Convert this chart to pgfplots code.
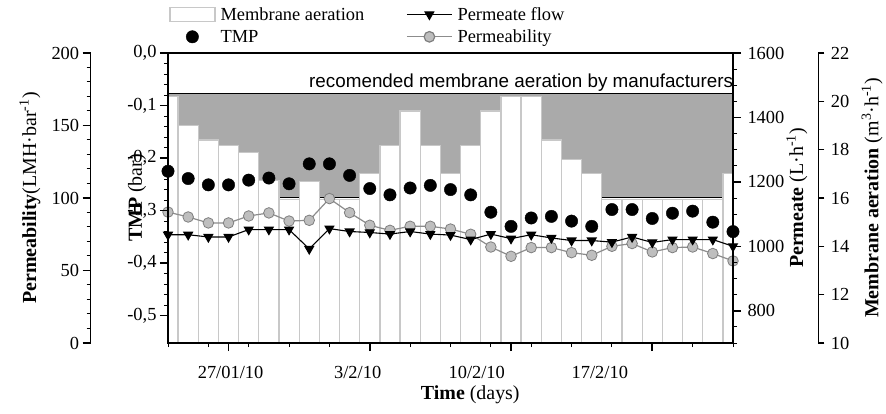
\documentclass[border=0pt]{standalone}
\usepackage{pgfplots}
\usepackage{pgfplotstable}
\pgfplotsset{compat=1.18}
\usepackage{fontspec}
\setmainfont{Liberation Serif}
\newfontfamily\arialfont{Liberation Sans}
\definecolor{shade}{HTML}{AAAAAA}
\definecolor{baredge}{HTML}{C8C8C8}
\definecolor{pfill}{HTML}{BEBEBE}
\definecolor{pedge}{HTML}{7F7F7F}
\definecolor{pline}{HTML}{8C8C8C}

\pgfplotstableread{
i aer tmp perm flow
0 20.2 -0.225 90.3 1036
1 19.0 -0.239 86.9 1036
2 18.4 -0.251 82.8 1029
3 18.18 -0.251 82.8 1029
4 17.89 -0.242 87.6 1052
5 16.72 -0.238 89.7 1052
6 15.93 -0.249 84.1 1052
7 16.69 -0.211 84.6 992
8 15.93 -0.211 99.6 1055
9 15.93 -0.233 89.9 1046
10 17.0 -0.258 81.2 1043
11 18.18 -0.270 77.7 1038
12 19.6 -0.257 80.5 1046
13 18.18 -0.252 80.5 1038
14 17.0 -0.260 78.6 1035
15 18.18 -0.270 75.0 1021
16 19.6 -0.303 66.2 1038
17 20.2 -0.330 59.8 1024
18 20.2 -0.314 65.8 1036
19 18.4 -0.311 65.8 1026
20 17.59 -0.320 62.3 1018
21 17.0 -0.330 60.5 1018
22 15.93 -0.298 66.7 1013
23 15.93 -0.298 68.6 1029
24 15.93 -0.315 62.8 1012
25 15.93 -0.305 65.8 1021
26 15.93 -0.301 66.2 1021
27 15.93 -0.322 61.7 1021
28 17.0 -0.340 56.6 1000
}\data

\newcommand{\lblfont}{\fontsize{20}{24}\selectfont}
\pgfplotsset{
  base/.style={scale only axis, width=565bp, height=290bp, xmin=0, xmax=28,
    tick label style={font=\fontsize{18.5}{20}\selectfont},
    axis line style={line width=1.1bp},
    major tick style={line width=1.6bp, black},
    minor tick style={line width=1bp, black},
    tick align=outside, major tick length=8bp, minor tick length=4bp,
  },
  spine/.style={scale only axis, width=1bp, height=290bp, xmin=0, xmax=1,
    hide x axis,
    tick label style={font=\fontsize{18.5}{20}\selectfont},
    axis line style={line width=1.1bp},
    major tick style={line width=1.6bp, black},
    minor tick style={line width=1bp, black},
    tick align=outside, major tick length=8bp, minor tick length=4bp,
  },
}
\begin{document}
\begin{tikzpicture}
\useasboundingbox (-168bp,-71bp) rectangle (718bp,343bp);
% --- aeration bars and recommended band
\begin{axis}[base, hide axis, ymin=10, ymax=22]
\addplot[fill=shade, draw=none] coordinates {(0,20.32) (28,20.32)} \closedcycle;
\addplot[fill=white, draw=none] coordinates {(0,16) (28,16)} \closedcycle;
\addplot[black, line width=1bp] coordinates {(0,16) (28,16)};
\addplot[ybar, bar width=1, fill=white, draw=baredge, line width=1.3bp] table[x=i, y=aer] {\data};
\addplot[black, line width=1bp] coordinates {(0,20.32) (28,20.32)};
\node[anchor=base west, font=\arialfont\fontsize{18.9}{20}\selectfont, inner sep=0pt] at (rel axis cs:0.2496,0.881) {recomended membrane aeration by manufacturers};
\end{axis}
% --- permeability line
\begin{axis}[base, hide axis, ymin=0, ymax=200]
\addplot[pline, line width=1.2bp, mark=*, mark size=5.3bp, mark options={fill=pfill, draw=pedge, line width=0.8bp}] table[x=i, y=perm] {\data};
\end{axis}
% --- permeate axis (right)
\begin{axis}[base, axis x line=none, axis y line*=right, ymin=700, ymax=1600,
  ytick={800,1000,1200,1400,1600}, yticklabels={800,1000,1200,1400,1600},
  minor ytick={700,750,...,1600},
  yticklabel style={xshift=3bp},
  ylabel={\textbf{Permeate} (L·h\textsuperscript{-1})},
  every axis y label/.style={at={(rel axis cs:1,0.5)}, xshift=64bp, rotate=90, anchor=center, font=\lblfont}]
\addplot[black, line width=1.1bp, mark=triangle*, mark size=5bp, mark options={rotate=180}] table[x=i, y=flow] {\data};
\end{axis}
% --- TMP main axis
\begin{axis}[base, ymin=-0.552, ymax=0,
  ytick={-0.5,-0.4,-0.3,-0.2,-0.1,0},
  yticklabels={{-0,5},{-0,4},{-0,3},{-0,2},{-0,1},{0,0}},
  minor y tick num=4,
  ytick pos=left, xtick pos=bottom,
  xtick={3,10,17,24}, xticklabels={,,,},
  minor xtick={0,2,...,28},
  extra x ticks={3.1,9.4,15.3,21.4},
  extra x tick labels={27/01/10,3/2/10,10/2/10,17/2/10},
  extra x tick style={major tick length=0pt, xticklabel style={yshift=-20bp}},
  xlabel={\textbf{Time} (days)},
  every axis x label/.style={at={(rel axis cs:0.535,0)}, yshift=-52bp, anchor=center, font=\lblfont},
  ylabel={\textbf{TMP} (bar)},
  every axis y label/.style={at={(rel axis cs:0,0.5)}, xshift=-31bp, rotate=90, anchor=center, font=\lblfont},
  legend columns=2,
  legend cell align=left,
  legend style={at={(axis description cs:-0.0035,1.1724)}, anchor=north west, draw=none, fill=none,
    font=\fontsize{18.5}{20}\selectfont, row sep=4bp,
    /tikz/every even column/.append style={column sep=40bp}, nodes={inner sep=2bp}},
  legend image code/.code={\draw[mark repeat=2,mark phase=2,#1] plot coordinates {(0bp,0bp)(22.5bp,0bp)(45bp,0bp)};},
]
\addplot[only marks, mark=*, mark size=6.2bp, black, forget plot] table[x=i, y=tmp] {\data};
\addlegendimage{legend image code/.code={\draw[fill=white,draw=baredge,line width=1.3bp] (0bp,-7bp) rectangle (45bp,7bp);}}
\addlegendentry{\hspace{3bp}Membrane aeration}
\addlegendimage{black, line width=1.1bp, mark=triangle*, mark size=5bp, mark options={rotate=180}}
\addlegendentry{\hspace{3bp}Permeate flow}
\addlegendimage{only marks, mark=*, mark size=6.2bp, black}
\addlegendentry{\hspace{3bp}TMP}
\addlegendimage{pline, line width=1.2bp, mark=*, mark size=5.3bp, mark options={fill=pfill, draw=pedge}}
\addlegendentry{\hspace{3bp}Permeability}
\end{axis}
% --- permeability spine
\begin{axis}[spine, at={(-77.3bp,0)}, anchor=south west, axis y line*=left, ymin=0, ymax=200,
  ytick={0,50,100,150,200}, yticklabels={0,50,100,150,200}, minor y tick num=4,
  ylabel={\textbf{Permeability}(LMH·bar\textsuperscript{-1})},
  every axis y label/.style={at={(rel axis cs:0,0.5)}, xshift=-60.7bp, rotate=90, anchor=center, font=\lblfont}]
\end{axis}
% --- aeration spine
\begin{axis}[spine, at={(650.3bp,0)}, anchor=south east, axis y line*=right, ymin=10, ymax=22,
  ytick={10,12,14,16,18,20,22}, yticklabels={10,12,14,16,18,20,22}, major tick length=6bp,
  yticklabel style={xshift=3bp},
  ylabel={\textbf{Membrane aeration} (m\textsuperscript{3}·h\textsuperscript{-1})},
  every axis y label/.style={at={(rel axis cs:1,0.5)}, xshift=53.7bp, rotate=90, anchor=center, font=\lblfont}]
\end{axis}
\end{tikzpicture}
\end{document}
